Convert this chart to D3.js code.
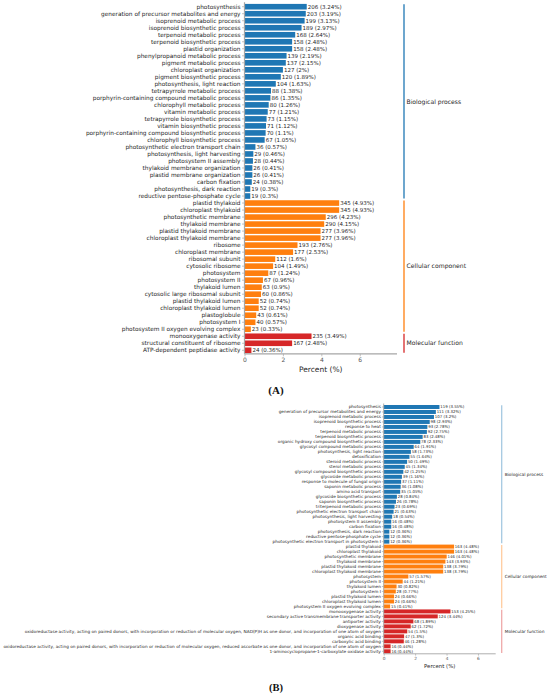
<!DOCTYPE html>
<html><head><meta charset="utf-8">
<script src="https://cdn.jsdelivr.net/npm/d3@7"></script>
<style>
html,body{margin:0;padding:0;background:#fff;}
svg{display:block;font-family:"DejaVu Sans",sans-serif;}
</style></head>
<body>
<svg id="chart" width="550" height="694"></svg>
<script>
// ---------- Panel A data ----------
const bpLabelsA = ["photosynthesis","generation of precursor metabolites and energy","isoprenoid metabolic process","isoprenoid biosynthetic process","terpenoid metabolic process","terpenoid biosynthetic process","plastid organization","phenylpropanoid metabolic process","pigment metabolic process","chloroplast organization","pigment biosynthetic process","photosynthesis, light reaction","tetrapyrrole metabolic process","porphyrin-containing compound metabolic process","chlorophyll metabolic process","vitamin metabolic process","tetrapyrrole biosynthetic process","vitamin biosynthetic process","porphyrin-containing compound biosynthetic process","chlorophyll biosynthetic process","photosynthetic electron transport chain","photosynthesis, light harvesting","photosystem II assembly","thylakoid membrane organization","plastid membrane organization","carbon fixation","photosynthesis, dark reaction","reductive pentose-phosphate cycle"];
const bpCountsA = [206,203,199,189,168,158,158,139,137,127,120,104,88,86,80,77,73,71,70,67,36,29,28,26,26,24,19,19];
const bpPctA = [3.24,3.19,3.13,2.97,2.64,2.48,2.48,2.19,2.15,2,1.89,1.63,1.38,1.35,1.26,1.21,1.15,1.12,1.1,1.05,0.57,0.46,0.44,0.41,0.41,0.38,0.3,0.3];
const ccLabelsA = ["plastid thylakoid","chloroplast thylakoid","photosynthetic membrane","thylakoid membrane","plastid thylakoid membrane","chloroplast thylakoid membrane","ribosome","chloroplast membrane","ribosomal subunit","cytosolic ribosome","photosystem","photosystem II","thylakoid lumen","cytosolic large ribosomal subunit","plastid thylakoid lumen","chloroplast thylakoid lumen","plastoglobule","photosystem I","photosystem II oxygen evolving complex"];
const ccCountsA = [345,345,296,290,277,277,193,177,112,104,87,67,63,60,52,52,43,40,23];
const ccPctA = [4.93,4.93,4.23,4.15,3.96,3.96,2.76,2.53,1.6,1.49,1.24,0.96,0.9,0.86,0.74,0.74,0.61,0.57,0.33];
const mfLabelsA = ["monooxygenase activity","structural constituent of ribosome","ATP-dependent peptidase activity"];
const mfCountsA = [235,167,24];
const mfPctA = [3.49,2.48,0.36];

// ---------- Panel B data ----------
const bpLabelsB = ["photosynthesis","generation of precursor metabolites and energy","isoprenoid metabolic process","isoprenoid biosynthetic process","response to heat","terpenoid metabolic process","terpenoid biosynthetic process","organic hydroxy compound biosynthetic process","glycosyl compound metabolic process","photosynthesis, light reaction","detoxification","steroid metabolic process","sterol metabolic process","glycosyl compound biosynthetic process","glycoside metabolic process","response to molecule of fungal origin","saponin metabolic process","amino acid transport","glycoside biosynthetic process","saponin biosynthetic process","triterpenoid metabolic process","photosynthetic electron transport chain","photosynthesis, light harvesting","photosystem II assembly","carbon fixation","photosynthesis, dark reaction","reductive pentose-phosphate cycle","photosynthetic electron transport in photosystem I"];
const bpCountsB = [119,111,107,98,93,92,83,78,64,58,55,50,45,42,39,37,36,35,28,26,23,21,18,16,16,12,12,12];
const bpPctB = [3.55,3.32,3.2,2.93,2.78,2.75,2.48,2.33,1.91,1.73,1.64,1.49,1.34,1.25,1.16,1.11,1.08,1.05,0.84,0.78,0.69,0.63,0.54,0.48,0.48,0.36,0.36,0.36];
const ccLabelsB = ["plastid thylakoid","chloroplast thylakoid","photosynthetic membrane","thylakoid membrane","plastid thylakoid membrane","chloroplast thylakoid membrane","photosystem","photosystem II","thylakoid lumen","photosystem I","plastid thylakoid lumen","chloroplast thylakoid lumen","photosystem II oxygen evolving complex"];
const ccCountsB = [163,163,146,143,138,138,57,44,30,28,24,24,15];
const ccPctB = [4.48,4.48,4.01,3.93,3.79,3.79,1.57,1.21,0.82,0.77,0.66,0.66,0.41];
const mfLabelsB = ["monooxygenase activity","secondary active transmembrane transporter activity","antiporter activity","dioxygenase activity","oxidoreductase activity, acting on paired donors, with incorporation or reduction of molecular oxygen, NAD(P)H as one donor, and incorporation of one atom of oxygen","organic acid binding","carboxylic acid binding","oxidoreductase activity, acting on paired donors, with incorporation or reduction of molecular oxygen, reduced ascorbate as one donor, and incorporation of one atom of oxygen","1-aminocyclopropane-1-carboxylate oxidase activity"];
const mfCountsB = [153,124,68,62,54,47,46,16,16];
const mfPctB = [4.25,3.44,1.89,1.72,1.5,1.3,1.28,0.44,0.44];

const groupNames = ["Biological process","Cellular component","Molecular function"];
const groupColors = ["#1f77b4","#ff7f0e","#d62728"];
const xTicks = [0,2,4,6];

function build(groups){
  const rows=[];
  groups.forEach((g,gi)=>{
    g.labels.forEach((l,i)=>rows.push({label:l,count:g.counts[i],pct:g.pcts[i],group:gi,id:rows.length}));
  });
  return rows;
}

const svg = d3.select("#chart");

function panel(rows, cfg){
  const g = svg.append("g");
  const x = d3.scaleLinear().domain([0,cfg.xMax]).range([cfg.x0,cfg.x1]);
  const y = d3.scaleBand().domain(rows.map(r=>r.id)).range([cfg.yTop,cfg.yBot]).paddingInner(0.2).paddingOuter(0.1);
  // bars
  g.selectAll("rect.bar").data(rows).join("rect")
    .attr("x",x(0)).attr("y",d=>y(d.id))
    .attr("width",d=>x(d.pct)-x(0)).attr("height",y.bandwidth())
    .attr("fill",d=>groupColors[d.group]);
  // value labels
  g.selectAll("text.val").data(rows).join("text")
    .attr("x",d=>x(d.pct)+cfg.valGap).attr("y",d=>y(d.id)+y.bandwidth()/2)
    .attr("dy","0.36em").attr("font-size",cfg.valFont).attr("fill","#262626")
    .text(d=>`${d.count} (${d.pct}%)`);
  // y axis
  const yAxis = d3.axisLeft(y).tickSize(cfg.tick).tickPadding(cfg.tickPad).tickFormat(id=>rows[id].label);
  const ya = g.append("g").attr("transform",`translate(${cfg.x0},0)`).call(yAxis);
  ya.select(".domain").remove();
  ya.selectAll(".tick line").attr("stroke","#999").attr("stroke-width",0.6);
  ya.selectAll(".tick text").attr("font-size",cfg.labFont).attr("fill","#262626").attr("font-family","DejaVu Sans");
  // x axis
  const xAxis = d3.axisBottom(x).tickValues(xTicks).tickSize(cfg.tick).tickPadding(cfg.tickPad).tickFormat(d3.format("d"));
  const xa = g.append("g").attr("transform",`translate(0,${cfg.yBot})`).call(xAxis);
  xa.select(".domain").remove();
  xa.selectAll(".tick line").attr("stroke","#999").attr("stroke-width",0.6);
  xa.selectAll(".tick text").attr("font-size",cfg.tickFont).attr("fill","#555").attr("font-family","DejaVu Sans");
  // spines
  g.append("line").attr("x1",cfg.x0).attr("x2",cfg.x0).attr("y1",cfg.yTop-1).attr("y2",cfg.yBot)
    .attr("stroke","#a6a6a6").attr("stroke-width",cfg.spine);
  g.append("line").attr("x1",cfg.x0).attr("x2",cfg.x1).attr("y1",cfg.yBot).attr("y2",cfg.yBot)
    .attr("stroke","#a6a6a6").attr("stroke-width",cfg.spine);
  // axis title
  g.append("text").attr("x",(cfg.x0+cfg.x1)/2).attr("y",cfg.titleY).attr("text-anchor","middle")
    .attr("font-size",cfg.titleFont).attr("fill","#262626").text("Percent (%)");
  // group brackets
  groupNames.forEach((name,gi)=>{
    const gr = rows.filter(r=>r.group===gi);
    const top = y(gr[0].id), bot = y(gr[gr.length-1].id)+y.bandwidth();
    g.append("line").attr("x1",cfg.bx).attr("x2",cfg.bx).attr("y1",top+0.3).attr("y2",bot-0.3)
      .attr("stroke",groupColors[gi]).attr("stroke-opacity",cfg.bOpacity).attr("stroke-width",cfg.bWidth);
    g.append("text").attr("x",cfg.bx+cfg.bGap).attr("y",(top+bot)/2).attr("dy","0.36em")
      .attr("font-size",cfg.grpFont).attr("fill","#262626").text(name);
  });
  // panel letter
  g.append("text").attr("x",cfg.letterX).attr("y",cfg.letterY).attr("text-anchor","middle")
    .attr("font-family","'Liberation Serif','Times New Roman',serif").attr("font-weight","bold")
    .attr("font-size",cfg.letterFont).attr("fill","#111").text(cfg.letter);
}

const rowsA = build([
  {labels:bpLabelsA,counts:bpCountsA,pcts:bpPctA},
  {labels:ccLabelsA,counts:ccCountsA,pcts:ccPctA},
  {labels:mfLabelsA,counts:mfCountsA,pcts:mfPctA}]);
const rowsB = build([
  {labels:bpLabelsB,counts:bpCountsB,pcts:bpPctB},
  {labels:ccLabelsB,counts:ccCountsB,pcts:ccPctB},
  {labels:mfLabelsB,counts:mfCountsB,pcts:mfPctB}]);

panel(rowsA,{x0:244.5,x1:397,xMax:7.94,yTop:3.2,yBot:353.8,valGap:1,valFont:5.5,labFont:5.8,tick:2.5,tickPad:1.5,
  tickFont:6,spine:1.2,titleY:372,titleFont:7.5,bx:404,bGap:2.5,bOpacity:1,bWidth:1.3,grpFont:6.1,
  letter:"(A)",letterX:276,letterY:393.5,letterFont:11});
panel(rowsB,{x0:383.7,x1:495.7,xMax:7.13,yTop:404.5,yBot:653.8,valGap:0.8,valFont:3.9,labFont:4.25,tick:1.8,tickPad:1,
  tickFont:4.3,spine:0.9,titleY:667.5,titleFont:5.4,bx:501.7,bGap:3,bOpacity:0.4,bWidth:1.3,grpFont:4.3,
  letter:"(B)",letterX:276,letterY:690.5,letterFont:10.5});
</script>
</body></html>
